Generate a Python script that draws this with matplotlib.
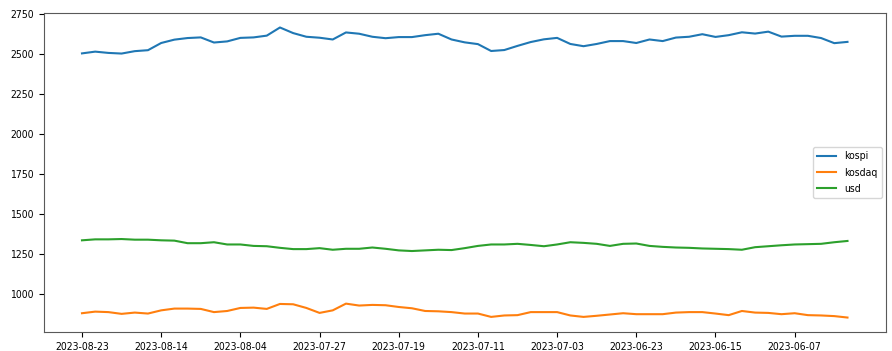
import matplotlib.pyplot as plt

# 거래일 (최근 -> 과거 순서)
dates = [
    "2023-08-23", "2023-08-22", "2023-08-21", "2023-08-18", "2023-08-17", "2023-08-16",
    "2023-08-14", "2023-08-11", "2023-08-10", "2023-08-09", "2023-08-08", "2023-08-07",
    "2023-08-04", "2023-08-03", "2023-08-02", "2023-08-01", "2023-07-31", "2023-07-28",
    "2023-07-27", "2023-07-26", "2023-07-25", "2023-07-24", "2023-07-21", "2023-07-20",
    "2023-07-19", "2023-07-18", "2023-07-17", "2023-07-14", "2023-07-13", "2023-07-12",
    "2023-07-11", "2023-07-10", "2023-07-07", "2023-07-06", "2023-07-05", "2023-07-04",
    "2023-07-03", "2023-06-30", "2023-06-29", "2023-06-28", "2023-06-27", "2023-06-26",
    "2023-06-23", "2023-06-22", "2023-06-21", "2023-06-20", "2023-06-19", "2023-06-16",
    "2023-06-15", "2023-06-14", "2023-06-13", "2023-06-12", "2023-06-09", "2023-06-08",
    "2023-06-07", "2023-06-05", "2023-06-02", "2023-06-01", "2023-05-31",
]

kospi = [
    2505, 2516, 2508, 2504, 2519, 2525, 2570, 2591, 2601, 2605, 2573, 2580,
    2602, 2605, 2616, 2667, 2632, 2609, 2603, 2592, 2636, 2628, 2609, 2600,
    2607, 2607, 2619, 2628, 2592, 2574, 2563, 2520, 2526, 2552, 2576, 2593,
    2602, 2564, 2550, 2564, 2582, 2582, 2570, 2592, 2582, 2604, 2609, 2625,
    2608, 2619, 2637, 2629, 2641, 2610, 2615, 2615, 2601, 2569, 2577,
]

kosdaq = [
    880, 890, 887, 876, 884, 878, 898, 909, 909, 907, 887, 894,
    913, 915, 907, 938, 936, 913, 882, 898, 940, 928, 932, 930,
    919, 911, 894, 892, 887, 878, 878, 857, 866, 868, 887, 887,
    887, 866, 857, 864, 872, 880, 874, 874, 874, 884, 887, 887,
    878, 868, 894, 884, 882, 874, 880, 868, 866, 862, 853,
]

usd = [
    1336, 1342, 1342, 1344, 1340, 1340, 1336, 1334, 1318, 1318, 1324, 1310,
    1310, 1301, 1299, 1289, 1281, 1281, 1287, 1277, 1283, 1283, 1291, 1283,
    1273, 1269, 1273, 1277, 1275, 1287, 1301, 1310, 1310, 1314, 1307, 1299,
    1310, 1324, 1320, 1314, 1301, 1314, 1316, 1301, 1295, 1291, 1289, 1285,
    1283, 1281, 1277, 1293, 1299, 1305, 1310, 1312, 1314, 1324, 1332,
]

plt.rcParams['font.family'] = ['DejaVu Sans']
plt.rcParams['font.stretch'] = 'condensed'
plt.rcParams['font.size'] = 7.5

fig = plt.figure(figsize=(8.92, 3.51), dpi=100)
ax = fig.add_axes([0.049, 0.054, 0.944, 0.909])

x = list(range(len(dates)))
ax.plot(x, kospi, label='kospi')
ax.plot(x, kosdaq, label='kosdaq')
ax.plot(x, usd, label='usd')

# 6 거래일마다 눈금
ax.set_xticks(x[::6])
ax.set_xticklabels(dates[::6])

for sp in ax.spines.values():
    sp.set_color('0.35')

ax.legend(loc='center right', fontsize=7.5, handlelength=1.8,
          labelspacing=0.6, borderaxespad=0.4)

fig.savefig('out.png', dpi=100)
